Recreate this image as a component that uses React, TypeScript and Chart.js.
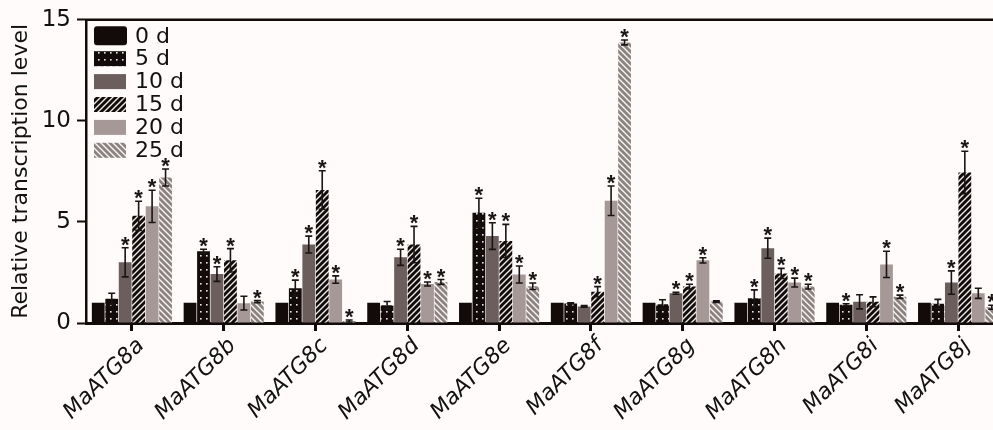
import React, { useEffect, useRef } from "react";
import { Chart, registerables } from "chart.js";

Chart.register(...registerables);

// ---------- data ----------
const categories = ["MaATG8a", "MaATG8b", "MaATG8c", "MaATG8d", "MaATG8e", "MaATG8f", "MaATG8g", "MaATG8h", "MaATG8i", "MaATG8j"];
const seriesLabels = ["0 d", "5 d", "10 d", "15 d", "20 d", "25 d"];
const yTicks = [0, 5, 10, 15];

const values0d = [1.0, 1.0, 1.0, 1.0, 1.0, 1.0, 1.0, 1.0, 1.0, 1.0];
const values5d = [1.2, 3.55, 1.72, 0.88, 5.45, 0.97, 0.93, 1.22, 0.9, 0.95];
const values10d = [3.0, 2.42, 3.88, 3.25, 4.3, 0.82, 1.47, 3.7, 1.05, 2.0];
const values15d = [5.3, 3.1, 6.58, 3.88, 4.06, 1.55, 1.8, 2.45, 1.05, 7.45];
const values20d = [5.77, 0.98, 2.15, 1.93, 2.4, 6.05, 3.1, 2.0, 2.9, 1.47];
const values25d = [7.2, 1.06, 0.1, 2.03, 1.82, 13.88, 1.06, 1.8, 1.3, 0.78];

const err0d = [0, 0, 0, 0, 0, 0, 0, 0, 0, 0];
const err5d = [0.27, 0.1, 0.4, 0.18, 0.72, 0.03, 0.22, 0.42, 0.05, 0.22];
const err10d = [0.72, 0.36, 0.42, 0.4, 0.66, 0.04, 0.05, 0.5, 0.35, 0.58];
const err15d = [0.72, 0.58, 0.95, 0.9, 0.82, 0.25, 0.12, 0.25, 0.24, 1.05];
const err20d = [0.8, 0.34, 0.18, 0.1, 0.42, 0.73, 0.13, 0.22, 0.65, 0.25];
const err25d = [0.42, 0.05, 0.05, 0.12, 0.16, 0.12, 0.04, 0.12, 0.08, 0.1];

const sig0d = [false, false, false, false, false, false, false, false, false, false];
const sig5d = [false, true, true, false, true, false, false, true, true, false];
const sig10d = [true, true, true, true, true, false, true, true, false, true];
const sig15d = [true, true, true, true, true, true, true, true, false, true];
const sig20d = [true, false, true, true, true, true, true, true, true, false];
const sig25d = [true, true, true, true, true, true, false, true, true, true];

const allValues = [values0d, values5d, values10d, values15d, values20d, values25d];
const allErrors = [err0d, err5d, err10d, err15d, err20d, err25d];
const allSig = [sig0d, sig5d, sig10d, sig15d, sig20d, sig25d];

// ---------- styles ----------
const FONT = '"DejaVu Sans", "Liberation Sans", Arial, sans-serif';
const STAR_FONT = '"Liberation Sans", Arial, sans-serif';
const BG = "#fefbfa";
const INK = "#120b09";

function makePattern(base: string, kind: "dots" | "fwd" | "back" | "solid"): CanvasPattern | string {
  if (kind === "solid") return base;
  const c = document.createElement("canvas");
  const w = 6;
  const h = kind === "dots" ? 7 : 6;
  c.width = w;
  c.height = h;
  const g = c.getContext("2d")!;
  g.fillStyle = base;
  g.fillRect(0, 0, w, h);
  if (kind === "dots") {
    g.fillStyle = "rgba(255,255,255,0.9)";
    g.fillRect(2, 3, 1.6, 1.6);
  } else {
    g.strokeStyle = "rgba(255,255,255,0.92)";
    g.lineWidth = 1.4;
    g.beginPath();
    if (kind === "fwd") {
      g.moveTo(-1, h + 1); g.lineTo(w + 1, -1);
      g.moveTo(-1, 1); g.lineTo(1, -1);
      g.moveTo(w - 1, h + 1); g.lineTo(w + 1, h - 1);
    } else {
      g.moveTo(-1, -1); g.lineTo(w + 1, h + 1);
      g.moveTo(w - 1, -1); g.lineTo(w + 1, 1);
      g.moveTo(-1, h - 1); g.lineTo(1, h + 1);
    }
    g.stroke();
  }
  return g.createPattern(c, "repeat")!;
}

const bgPlugin = {
  id: "bgFill",
  beforeDraw(chart: any) {
    const { ctx, width, height } = chart;
    ctx.save();
    ctx.fillStyle = BG;
    ctx.fillRect(0, 0, width, height);
    ctx.restore();
  },
};

const topLinePlugin = {
  id: "topLine",
  afterDraw(chart: any) {
    const { ctx, chartArea } = chart;
    ctx.save();
    ctx.strokeStyle = INK;
    ctx.lineWidth = 2.5;
    ctx.beginPath();
    ctx.moveTo(chartArea.left - 1, chartArea.top);
    ctx.lineTo(chart.width, chartArea.top);
    ctx.stroke();
    ctx.restore();
  },
};

const errorPlugin = {
  id: "errorStars",
  afterDatasetsDraw(chart: any) {
    const { ctx } = chart;
    const yScale = chart.scales.y;
    ctx.save();
    ctx.strokeStyle = "#1a1412";
    ctx.fillStyle = "#1a1412";
    ctx.lineWidth = 1.6;
    ctx.font = `bold 22px ${STAR_FONT}`;
    ctx.textAlign = "center";
    ctx.textBaseline = "alphabetic";
    chart.data.datasets.forEach((_ds: any, i: number) => {
      const meta = chart.getDatasetMeta(i);
      meta.data.forEach((bar: any, j: number) => {
        const v = allValues[i][j];
        const e = allErrors[i][j];
        const x = bar.x;
        const yTop = yScale.getPixelForValue(v + e);
        const yBot = yScale.getPixelForValue(Math.max(v - e, 0));
        if (e > 0) {
          ctx.beginPath();
          ctx.moveTo(x, yTop);
          ctx.lineTo(x, yBot);
          ctx.moveTo(x - 3.5, yTop);
          ctx.lineTo(x + 3.5, yTop);
          ctx.moveTo(x - 3.5, yBot);
          ctx.lineTo(x + 3.5, yBot);
          ctx.stroke();
        }
        if (allSig[i][j]) {
          ctx.fillText("*", x, yTop + 4);
        }
      });
    });
    ctx.restore();
  },
};

const legendPlugin = {
  id: "boxLegend",
  afterDraw(chart: any) {
    const { ctx, chartArea } = chart;
    const x0 = chartArea.left + 8;
    const y0 = chartArea.top + 16;
    ctx.save();
    ctx.font = `22px ${FONT}`;
    ctx.textBaseline = "middle";
    ctx.textAlign = "left";
    chart.data.datasets.forEach((ds: any, i: number) => {
      const cy = y0 + i * 22.9;
      ctx.fillStyle = ds.backgroundColor;
      if (i === 0) {
        ctx.beginPath();
        ctx.roundRect(x0, cy - 9.5, 33, 19, 3);
        ctx.fill();
      } else {
        ctx.fillRect(x0, cy - 7.5, 32, 15);
      }
      ctx.fillStyle = "#111";
      ctx.fillText(ds.label, x0 + 41, cy + 1);
    });
    ctx.restore();
  },
};

export default function App() {
  const ref = useRef<HTMLCanvasElement>(null);

  useEffect(() => {
    if (!ref.current) return;
    const fills = [
      makePattern(INK, "solid"),
      makePattern(INK, "dots"),
      makePattern("#6b5e5c", "solid"),
      makePattern(INK, "fwd"),
      makePattern("#a59897", "solid"),
      makePattern("#8e8280", "back"),
    ];
    const chart = new Chart(ref.current, {
      type: "bar",
      data: {
        labels: categories,
        datasets: seriesLabels.map((label, i) => ({
          label,
          data: allValues[i],
          backgroundColor: fills[i] as any,
          borderWidth: 0,
          categoryPercentage: 0.88,
          barPercentage: 0.95,
        })),
      },
      options: {
        responsive: false,
        animation: false,
        devicePixelRatio: 1,
        layout: { padding: { top: 17, right: 2, left: 0, bottom: 0 } },
        plugins: {
          legend: { display: false },
          tooltip: { enabled: false },
        },
        scales: {
          x: {
            type: "category",
            offset: true,
            grid: {
              display: true,
              drawOnChartArea: false,
              drawTicks: true,
              tickLength: 8,
              tickWidth: 3,
              tickColor: INK,
              offset: false,
            },
            border: { display: true, color: INK, width: 3 },
            ticks: {
              color: "#111",
              font: { family: FONT, size: 22, style: "italic" },
              minRotation: 45,
              maxRotation: 45,
              padding: 2,
              labelOffset: 9,
              autoSkip: false,
            },
            afterFit(scale: any) {
              scale.height = 107;
            },
          },
          y: {
            min: 0,
            max: 15,
            afterBuildTicks(scale: any) {
              scale.ticks = yTicks.map((v) => ({ value: v }));
            },
            grid: {
              display: true,
              drawOnChartArea: false,
              drawTicks: true,
              tickLength: 9,
              tickWidth: 2,
              tickColor: INK,
            },
            border: { display: true, color: INK, width: 2.5 },
            ticks: {
              color: "#111",
              font: { family: FONT, size: 23 },
              padding: 6,
            },
            title: {
              display: true,
              text: "Relative transcription level",
              color: "#111",
              font: { family: FONT, size: 22 },
              padding: { top: 8, bottom: 0 },
            },
            afterFit(scale: any) {
              scale.width = 86;
            },
          },
        },
      },
      plugins: [bgPlugin, errorPlugin, legendPlugin, topLinePlugin],
    });
    return () => chart.destroy();
  }, []);

  return (
    <div
      style={{
        position: "fixed",
        left: 0,
        top: 0,
        width: 993,
        height: 430,
        overflow: "hidden",
        background: BG,
      }}
    >
      <canvas ref={ref} width={1006} height={430} style={{ display: "block", width: 1006, height: 430 }} />
    </div>
  );
}
